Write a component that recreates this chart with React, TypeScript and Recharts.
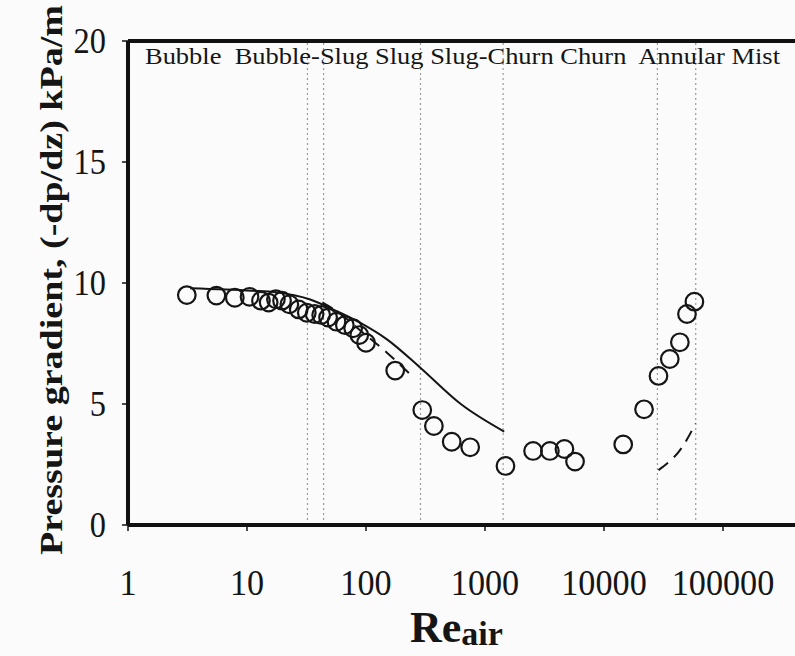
import React from "react";
import {
  ComposedChart,
  Scatter,
  Line,
  XAxis,
  YAxis,
  ReferenceLine,
} from "recharts";

// measured points (Re_air, kPa/m)
const measuredRe = [
  3.12, 5.53, 7.9, 10.5, 13.1, 15.2, 17.5, 19.7, 22.7, 27.2, 31.8, 37, 42, 48,
  56.5, 66.4, 78, 87.8, 100, 176, 297, 372, 525, 751, 1486, 2535, 3510, 4650,
  5710, 14500, 21700, 28700, 35700, 43400, 49800, 57500,
];
const measuredDp = [
  9.5, 9.48, 9.39, 9.43, 9.27, 9.19, 9.33, 9.27, 9.12, 8.91, 8.77, 8.72, 8.68,
  8.57, 8.4, 8.26, 8.13, 7.85, 7.53, 6.38, 4.75, 4.09, 3.44, 3.21, 2.44, 3.06,
  3.06, 3.14, 2.62, 3.33, 4.78, 6.16, 6.86, 7.55, 8.72, 9.23,
];

// model curves
const bubbleRe = [3.33, 11, 17.3, 33.5, 56, 89, 150, 286, 626, 1450];
const bubbleDp = [9.78, 9.68, 9.62, 9.33, 8.85, 8.36, 7.67, 6.5, 5.0, 3.86];

const slugRe = [43, 60, 89, 150, 244];
const slugDp = [9.2, 8.75, 8.05, 7.12, 6.15];

const annularRe = [28700, 35000, 42900, 50000, 58700];
const annularDp = [2.27, 2.6, 3.05, 3.55, 4.2];

// regime boundaries
const boundaries = [32.2, 44, 287, 1420, 28100, 59000];

const xTicks = [1, 10, 100, 1000, 10000, 100000];
const yTicks = [0, 5, 10, 15, 20];

const regimeText = "Bubble  Bubble-Slug Slug Slug-Churn Churn  Annular Mist";

const toPoints = (xs: number[], ys: number[]) =>
  xs.map((x, i) => ({ x, y: ys[i] }));

const FONT = "'Liberation Serif', 'Times New Roman', serif";

const XTick = (props: any) => {
  const { x, y, payload } = props;
  return (
    <text
      transform={`translate(${x},${y + 62}) scale(0.95,1)`}
      textAnchor="middle"
      fontFamily={FONT}
      fontSize={36}
      fill="#151515"
    >
      {payload.value}
    </text>
  );
};

const YTick = (props: any) => {
  const { x, y, payload } = props;
  return (
    <text
      transform={`translate(${x - 14},${y + 12}) scale(0.9,1)`}
      textAnchor="end"
      fontFamily={FONT}
      fontSize={36}
      fill="#151515"
    >
      {payload.value}
    </text>
  );
};

const Ring = (props: any) => {
  const { cx, cy } = props;
  if (cx == null || cy == null) return null;
  return <circle cx={cx} cy={cy} r={8.8} fill="none" stroke="#151515" strokeWidth={2.2} />;
};

export default function App() {
  return (
    <div
      style={{
        position: "fixed",
        left: 0,
        top: 0,
        width: 795,
        height: 656,
        overflow: "hidden",
        background: "#fbfbfb",
      }}
    >
      <ComposedChart
        width={852}
        height={656}
        margin={{ top: 41, right: 10, bottom: 71, left: 0 }}
      >
        <XAxis
          type="number"
          dataKey="x"
          scale="log"
          domain={[1, 1000000]}
          ticks={xTicks}
          allowDataOverflow
          axisLine={{ stroke: "#111", strokeWidth: 4 }}
          tickLine={{ stroke: "#111", strokeWidth: 1.5 }}
          tickSize={6}
          tick={<XTick />}
          height={60}
        />
        <YAxis
          type="number"
          dataKey="y"
          domain={[0, 20]}
          ticks={yTicks}
          axisLine={{ stroke: "#111", strokeWidth: 4 }}
          tickLine={{ stroke: "#111", strokeWidth: 1.5 }}
          tickSize={6}
          tick={<YTick />}
          width={128}
        />
        <ReferenceLine y={20} stroke="#111" strokeWidth={4} />
        {boundaries.map((b) => (
          <ReferenceLine
            key={b}
            x={b}
            stroke="#9a9a9a"
            strokeWidth={1.2}
            strokeDasharray="2 3"
          />
        ))}
        <Line
          data={toPoints(bubbleRe, bubbleDp)}
          dataKey="y"
          type="monotone"
          stroke="#151515"
          strokeWidth={2}
          dot={false}
          isAnimationActive={false}
        />
        <Line
          data={toPoints(slugRe, slugDp)}
          dataKey="y"
          type="monotone"
          stroke="#151515"
          strokeWidth={2}
          strokeDasharray="12 8"
          dot={false}
          isAnimationActive={false}
        />
        <Line
          data={toPoints(annularRe, annularDp)}
          dataKey="y"
          type="monotone"
          stroke="#151515"
          strokeWidth={2}
          strokeDasharray="12 8"
          dot={false}
          isAnimationActive={false}
        />
        <Scatter
          data={toPoints(measuredRe, measuredDp)}
          dataKey="y"
          shape={<Ring />}
          isAnimationActive={false}
        />
      </ComposedChart>
      <svg
        width={795}
        height={656}
        style={{ position: "absolute", left: 0, top: 0, pointerEvents: "none" }}
      >
        <text
          x={145}
          y={64}
          fontFamily={FONT}
          fontSize={23}
          fill="#151515"
          textLength={635}
          lengthAdjust="spacingAndGlyphs"
          style={{ whiteSpace: "pre" }}
        >
          {regimeText}
        </text>
        <text
          transform="translate(62,280) scale(0.88,1) rotate(-90)"
          textAnchor="middle"
          fontFamily={FONT}
          fontWeight="bold"
          fontSize={37}
          fill="#151515"
          textLength={550}
          lengthAdjust="spacingAndGlyphs"
        >
          Pressure gradient, (-dp/dz) kPa/m
        </text>
        <text
          transform="translate(410,642)"
          fontFamily={FONT}
          fontWeight="bold"
          fontSize={44}
          fill="#151515"
        >
          Re
          <tspan fontSize={34} dy={3}>
            air
          </tspan>
        </text>
      </svg>
    </div>
  );
}
